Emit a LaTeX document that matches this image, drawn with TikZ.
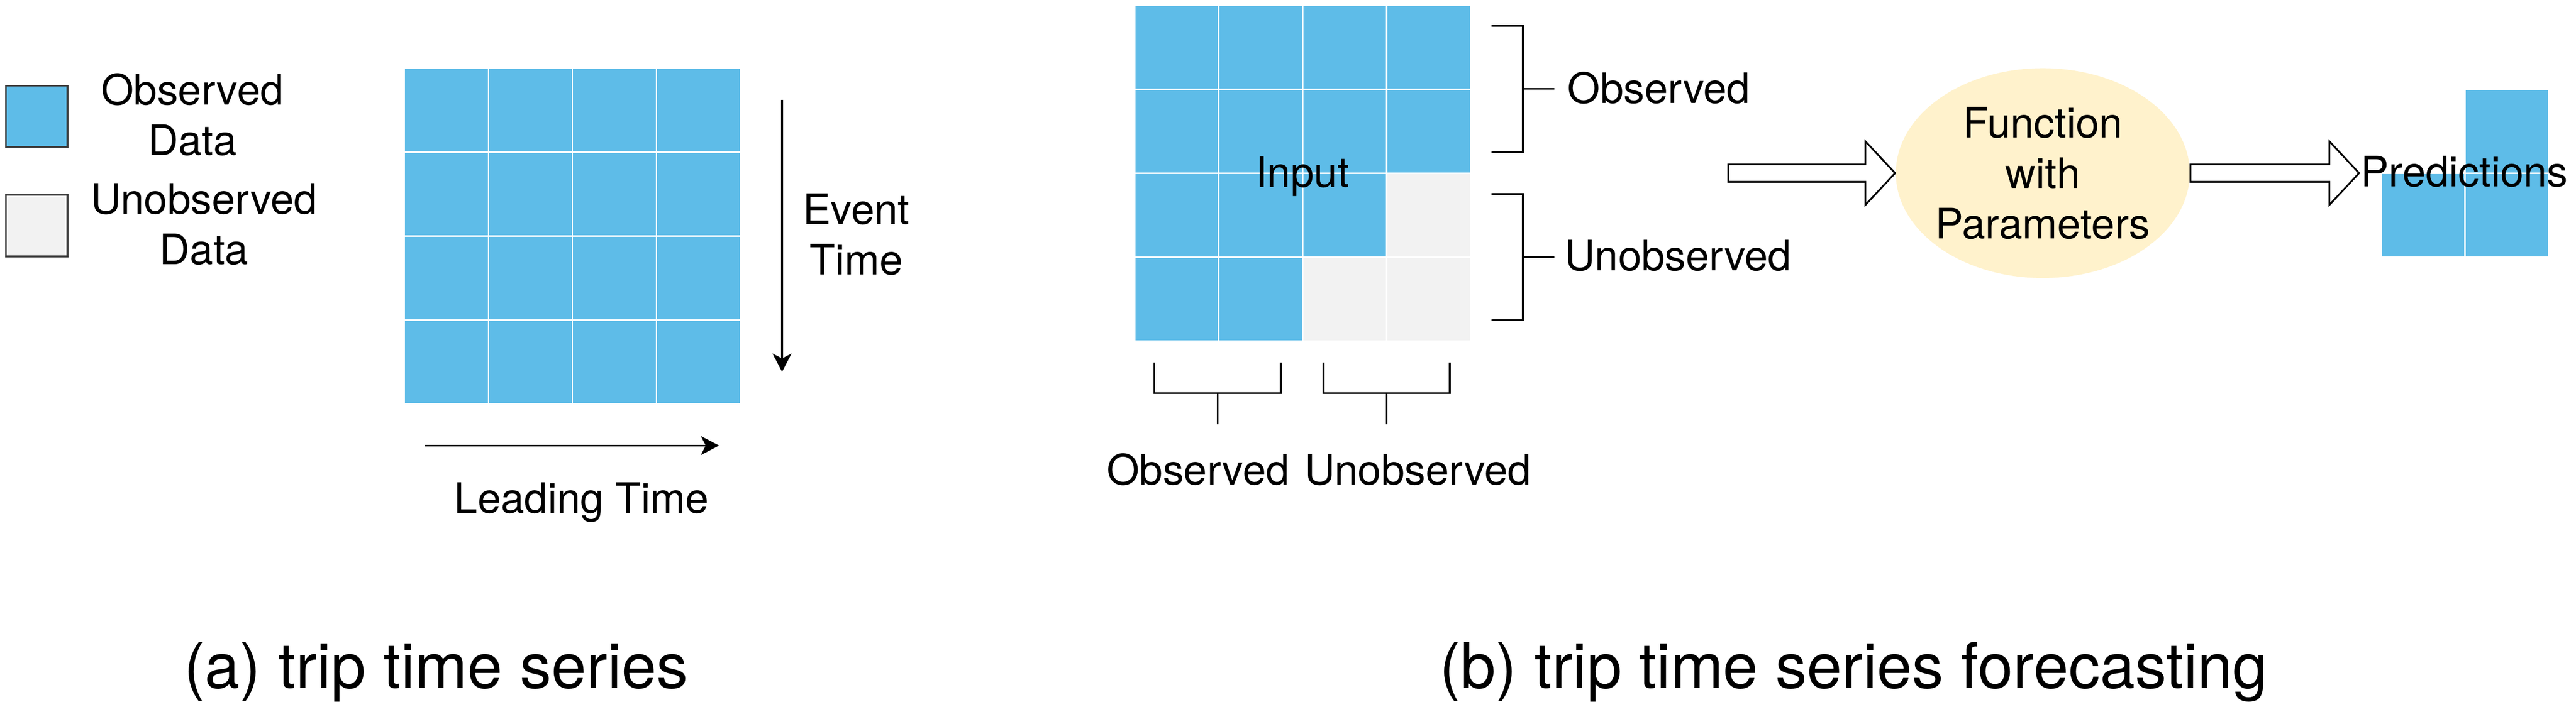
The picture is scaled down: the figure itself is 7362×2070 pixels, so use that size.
\documentclass[tikz,border=0pt]{standalone}
\usepackage{fontspec}
\setmainfont{TeX Gyre Heros}
\usetikzlibrary{arrows.meta,positioning,shapes.geometric}
\definecolor{obsblue}{RGB}{94,188,232}
\definecolor{unobsgray}{RGB}{242,242,242}
\definecolor{funcyellow}{RGB}{255,242,204}
\definecolor{keyline}{RGB}{60,60,60}

\begin{document}
\begin{tikzpicture}[x=0.1pt,y=-0.1pt,
  font=\fontsize{12}{14.4}\selectfont,
  cell/.style={draw=white,line width=0.4pt,minimum size=24pt,inner sep=0pt},
  obs/.style={fill=obsblue},
  unobs/.style={fill=unobsgray},
  key/.style={draw=keyline,line width=0.5pt,minimum size=17.6pt,inner sep=0pt},
  axis/.style={line width=0.5pt,-{Stealth[length=5.2pt,width=5.4pt,inset=1.4pt]}},
  brace/.style={line width=0.55pt},
  fat/.style={draw,fill=white,line width=0.5pt,line join=miter},
  caption/.style={anchor=base,font=\fontsize{18}{21.6}\selectfont}]
\useasboundingbox (0,0) rectangle (7362,2070);

% legend
\node[key,obs] (keyobs) at (105,333) {};
\node[key,unobs] (keyunobs) at (105,645) {};
\node[align=center] (txtobs) at (550,328) {Observed\\Data};
\node[align=center] (txtunobs) at (583,641) {Unobserved\\Data};

% (a) the series
\foreach \r in {1,...,4}
  \foreach \c in {1,...,4}
    \node[cell,obs] (a\r\c) at ({1036+240*\c},{75+240*\r}) {};
\coordinate (evtop) at (2235,285);
\coordinate (evbot) at (2235,1063);
\draw[axis] (evtop) -- (evbot);
\node[align=center] (evlbl) at (2447,671) {Event\\Time};
\coordinate (ldleft) at (1214,1274);
\coordinate (ldright) at (2055,1274);
\draw[axis] (ldleft) -- (ldright);
\node[anchor=base] (ldlbl) at (1662,1467) {Leading Time};

% (b) input, cells below the diagonal are not seen yet
\foreach \r in {1,...,4}
  \foreach \c in {1,...,4} {
    \pgfmathtruncatemacro{\s}{\r+\c}
    \ifnum\s>6 \def\kind{unobs}\else\def\kind{obs}\fi
    \node[cell,\kind] (b\r\c) at ({3123+240*\c},{-105+240*\r}) {};
  }
\node (input) at (3722,504) {Input};

% brackets
\draw[brace] (4263,74) -| (4352,435) -- (4263,435);
\draw[brace] (4352,254) -- (4442,254);
\node[anchor=base] (rowobs) at (4741,295) {Observed};
\draw[brace] (4263,555) -| (4352,915) -- (4263,915);
\draw[brace] (4352,735) -- (4442,735);
\node[anchor=base] (rowunobs) at (4796,773) {Unobserved};
\draw[brace] (3299,1036) |- (3660,1124) -- (3660,1036);
\draw[brace] (3480,1124) -- (3480,1213);
\node[anchor=base] (colobs) at (3424,1386) {Observed};
\draw[brace] (3783,1036) |- (4143,1124) -- (4143,1036);
\draw[brace] (3963,1124) -- (3963,1213);
\node[anchor=base] (colunobs) at (4052,1386) {Unobserved};

% model and output
\node[ellipse,fill=funcyellow,minimum width=84pt,minimum height=60pt] (func) at (5838,495) {};
\node[align=center] (functxt) at (func) {Function\\with\\Parameters};
\draw[fat] (func.west) -- ++(-85,-91) -- ++(0,66) -- ++(-392,0) -- ++(0,50) -- ++(392,0) -- ++(0,66) -- cycle;
\draw[fat] (func.east) ++(0,-25) -- ++(397,0) -- ++(0,-66) -- ++(85,91) -- ++(-85,91) -- ++(0,-66) -- ++(-397,0) -- cycle;
\node[cell,obs] (pr1) at (7165,375) {};
\node[cell,obs] (pr2) at (7165,615) {};
\node[cell,obs] (pr3) at (6925,615) {};
\node[anchor=base] (pred) at (7043,534) {Predictions};

\node[caption] (capa) at (1246,1968) {(a) trip time series};
\node[caption] (capb) at (5298,1968) {(b) trip time series forecasting};
\end{tikzpicture}
\end{document}
